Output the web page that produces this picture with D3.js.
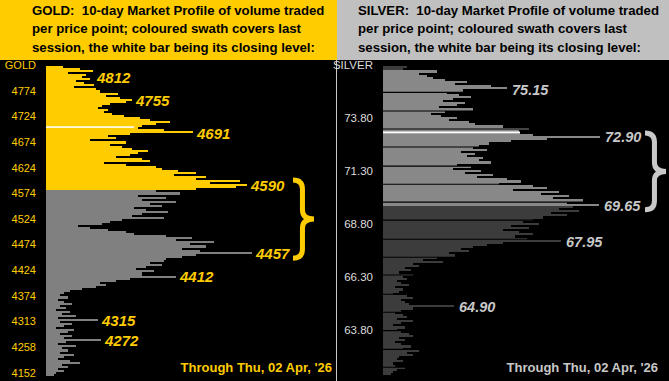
<!DOCTYPE html>
<html><head><meta charset="utf-8">
<script src="https://cdn.jsdelivr.net/npm/d3@7"></script>
<style>html,body{margin:0;padding:0;background:#000;overflow:hidden}svg{display:block}</style>
</head><body><svg id="c" width="669" height="381"></svg>
<script>
// ---------------- DATA ----------------
const goldTitle = ["GOLD:  10-day Market Profile of volume traded","per price point; coloured swath covers last","session, the white bar being its closing level:"];
const silverTitle = ["SILVER:  10-day Market Profile of volume traded","per price point; coloured swath covers last","session, the white bar being its closing level:"];
const footerText = "Through Thu, 02 Apr, '26";

const goldTickLabels = ["GOLD","4774","4724","4674","4624","4574","4524","4474","4424","4374","4313","4258","4152"];
const goldTickPrices = [4824,4774,4724,4674,4624,4574,4524,4474,4424,4374,4313,4258,4152];
// volume per price row, top to bottom
const goldVolume = [
17,34,47,22,40,36,44,30,38,48,
28,50,54,72,60,74,86,80,64,56,
52,62,58,66,78,94,104,124,110,96,
92,118,147,84,62,70,44,80,64,76,
86,102,92,84,70,96,104,58,80,110,
116,132,150,128,160,150,194,164,201,190,
150,110,134,92,120,96,130,104,116,88,
100,122,96,86,118,76,64,56,32,44,
62,80,88,120,146,130,168,144,160,136,
154,206,150,136,120,118,104,116,100,90,
108,96,96,130,84,70,54,60,50,36,
24,18,14,22,12,18,26,14,20,10,
24,16,30,12,52,14,26,18,10,28,
22,14,26,18,55,20,12,30,16,22,
14,28,18,12,24,34,16,22,12,18,
10,8];
const goldSession = [4824, 4579];
const goldClose = 4703;
const goldCloseVolume = 88;
const goldCallouts = [4812,4755,4691,4590,4457,4412,4315,4272];
const goldBrace = [4590,4457];

const silverTickLabels = ["SILVER","73.80","71.30","68.80","66.30","63.80"];
const silverTickPrices = [76.30,73.80,71.30,68.80,66.30,63.80];
const silverTopPrice = 76.20, silverStep = 0.10;
const silverVolume = [
24,20,54,36,44,50,62,84,72,108,
124,80,64,76,88,70,60,82,74,56,
90,62,48,58,74,66,86,92,120,146,
136,137,150,217,164,128,106,96,90,104,
78,92,84,100,96,108,74,88,70,98,
82,110,94,124,138,116,150,164,130,176,
158,186,170,200,184,216,190,176,196,168,
184,160,150,140,156,128,146,120,136,150,
132,144,178,120,104,90,78,86,66,72,
54,40,60,30,36,22,28,16,30,20,
24,14,18,26,12,20,16,10,24,30,
18,22,26,71,30,18,12,20,24,14,
30,18,10,22,14,18,26,30,16,22,
12,18,28,20,36,24,30,16,14,20,
10,12,22,14,10,8];
const silverSession = [76.02, 69.65];
const silverClose = 73.12;
const silverCloseVolume = 137;
const silverCallouts = ["75.15","72.90","69.65","67.95","64.90"];
const silverBrace = [72.90, 69.65];
const silverGapPrices = [75.01,74.13,73.28,72.43,71.53,70.67,69.82,68.97,68.07,67.22,66.38,65.47,64.62,63.75,62.87,62.02];

// ---------------- STYLE ----------------
const GOLD = "#FFCC00", GREY = "#808080", SILV = "#888888", SDARK = "#3C3C3C", SLAB = "#C8C8C8";
const FONT = "'Liberation Sans', Arial, sans-serif";

const svg = d3.select("#c");
svg.append("rect").attr("width",669).attr("height",381).attr("fill","#000");
svg.append("rect").attr("x",0).attr("y",0).attr("width",337).attr("height",60).attr("fill",GOLD);
svg.append("rect").attr("x",337).attr("y",0).attr("width",332).attr("height",60).attr("fill","#C0C0C0");
svg.append("line").attr("x1",336.5).attr("x2",336.5).attr("y1",60).attr("y2",381).attr("stroke","#C8C8C8").attr("stroke-width",1);

function title(lines, x){
  svg.append("g").selectAll("text").data(lines).join("text")
    .attr("x",x).attr("y",(d,i)=>15+i*18.4)
    .attr("font-family",FONT).attr("font-weight","bold").attr("font-size",13.2)
    .style("white-space","pre").attr("fill","#000").text(d=>d);
}
title(goldTitle, 32);
title(silverTitle, 358);

function brace(g, x0, y0, y1, w, color, sw){
  const xm = x0 + w*0.45, ym = (y0+y1)/2, r = 9;
  const p = d3.path();
  p.moveTo(x0,y0);
  p.quadraticCurveTo(xm,y0,xm,y0+r);
  p.lineTo(xm,ym-r);
  p.quadraticCurveTo(xm,ym,x0+w,ym);
  p.quadraticCurveTo(xm,ym,xm,ym+r);
  p.lineTo(xm,y1-r);
  p.quadraticCurveTo(xm,y1,x0,y1);
  g.append("path").attr("d",p.toString()).attr("fill","none").attr("stroke",color).attr("stroke-width",sw);
}

// ---------------- GOLD ----------------
(function(){
  const g = svg.append("g");
  const yTick = d3.scalePoint().domain(d3.range(goldTickLabels.length)).range([65,372.7]);
  const yPrice = d3.scaleLinear().domain(goldTickPrices).range(goldTickPrices.map((d,i)=>yTick(i)));
  const yRow = d3.scaleBand().domain(d3.range(goldVolume.length)).range([66,376]);
  const x = d3.scaleLinear().domain([0,100]).range([46,146]);
  const hiY = yPrice(goldSession[0]), loY = yPrice(goldSession[1]);
  g.selectAll("rect.bar").data(goldVolume).join("rect").attr("class","bar")
    .attr("x",x(0)).attr("y",(d,i)=>yRow(i)).attr("height",yRow.bandwidth()+0.05)
    .attr("width",d=>x(d)-x(0))
    .attr("fill",(d,i)=>{const c=yRow(i)+yRow.bandwidth()/2; return (c>=hiY&&c<=loY)?GOLD:GREY;})
    .attr("shape-rendering","crispEdges");
  g.append("rect").attr("x",x(0)).attr("y",yPrice(goldClose)-0.8).attr("height",1.6)
    .attr("width",x(goldCloseVolume)-x(0)).attr("fill","#fff");
  g.selectAll("text.tick").data(goldTickLabels).join("text").attr("class","tick")
    .attr("x",36).attr("y",(d,i)=>yTick(i)+4).attr("text-anchor","end")
    .attr("font-family",FONT).attr("font-size",11).attr("fill",GOLD).text(d=>d);
  const nearMax = y => d3.max(goldVolume.filter((d,i)=>Math.abs(yRow(i)+yRow.bandwidth()/2-y)<=3));
  g.selectAll("text.call").data(goldCallouts).join("text").attr("class","call")
    .attr("x",d=>x(nearMax(yPrice(d)))+4)
    .attr("y",d=>Math.max(yPrice(d),77.5)+5.5)
    .attr("font-family",FONT).attr("font-weight","bold").attr("font-style","italic")
    .attr("font-size",15).attr("fill",GOLD).text(d=>d);
  brace(g, 293, yPrice(goldBrace[0])-5, yPrice(goldBrace[1])+5, 21, GOLD, 5);
  g.append("text").attr("x",332).attr("y",372).attr("text-anchor","end")
    .attr("font-family",FONT).attr("font-weight","bold").attr("font-size",13).attr("fill",GOLD).text(footerText);
})();

// ---------------- SILVER ----------------
(function(){
  const g = svg.append("g");
  const y = d3.scaleLinear().domain([73.80,63.80]).range([118,329.6]);
  const x = d3.scaleLinear().domain([0,100]).range([383,483]);
  const rows = silverVolume.map((v,i)=>({v, p: silverTopPrice - silverStep*i}));
  g.selectAll("rect.bar").data(rows).join("rect").attr("class","bar")
    .attr("x",x(0)).attr("y",d=>y(d.p+silverStep/2))
    .attr("height",d=>y(d.p-silverStep/2)-y(d.p+silverStep/2)+0.05)
    .attr("width",d=>x(d.v)-x(0))
    .attr("fill",d=>(d.p<=silverSession[0]&&d.p>=silverSession[1])?SILV:SDARK)
    .attr("shape-rendering","crispEdges");
  g.selectAll("line.gap").data(silverGapPrices).join("line").attr("class","gap")
    .attr("x1",x(0)).attr("x2",640).attr("y1",d=>y(d)).attr("y2",d=>y(d))
    .attr("stroke","#000").attr("stroke-width",1.2);
  g.append("rect").attr("x",x(0)).attr("y",y(silverClose)-0.9).attr("height",1.8)
    .attr("width",x(silverCloseVolume)-x(0)).attr("fill","#fff");
  g.selectAll("text.tick").data(silverTickLabels).join("text").attr("class","tick")
    .attr("x",373).attr("y",(d,i)=>y(silverTickPrices[i])+4).attr("text-anchor","end")
    .attr("font-family",FONT).attr("font-size",11.5).attr("fill","#DCDCDC").text(d=>d);
  const nearMax = yy => d3.max(rows.filter(r=>Math.abs(y(r.p)-yy)<=2.5), r=>r.v);
  g.selectAll("text.call").data(silverCallouts).join("text").attr("class","call")
    .attr("x",d=>x(nearMax(y(+d)))+5)
    .attr("y",d=>y(+d)+5.2)
    .attr("font-family",FONT).attr("font-weight","bold").attr("font-style","italic")
    .attr("font-size",14.5).attr("fill",SLAB).text(d=>d);
  brace(g, 645, y(silverBrace[0])-4, y(silverBrace[1])+4, 21, SLAB, 5);
  g.append("text").attr("x",658).attr("y",372).attr("text-anchor","end")
    .attr("font-family",FONT).attr("font-weight","bold").attr("font-size",13).attr("fill",SLAB).text(footerText);
})();
</script></body></html>
